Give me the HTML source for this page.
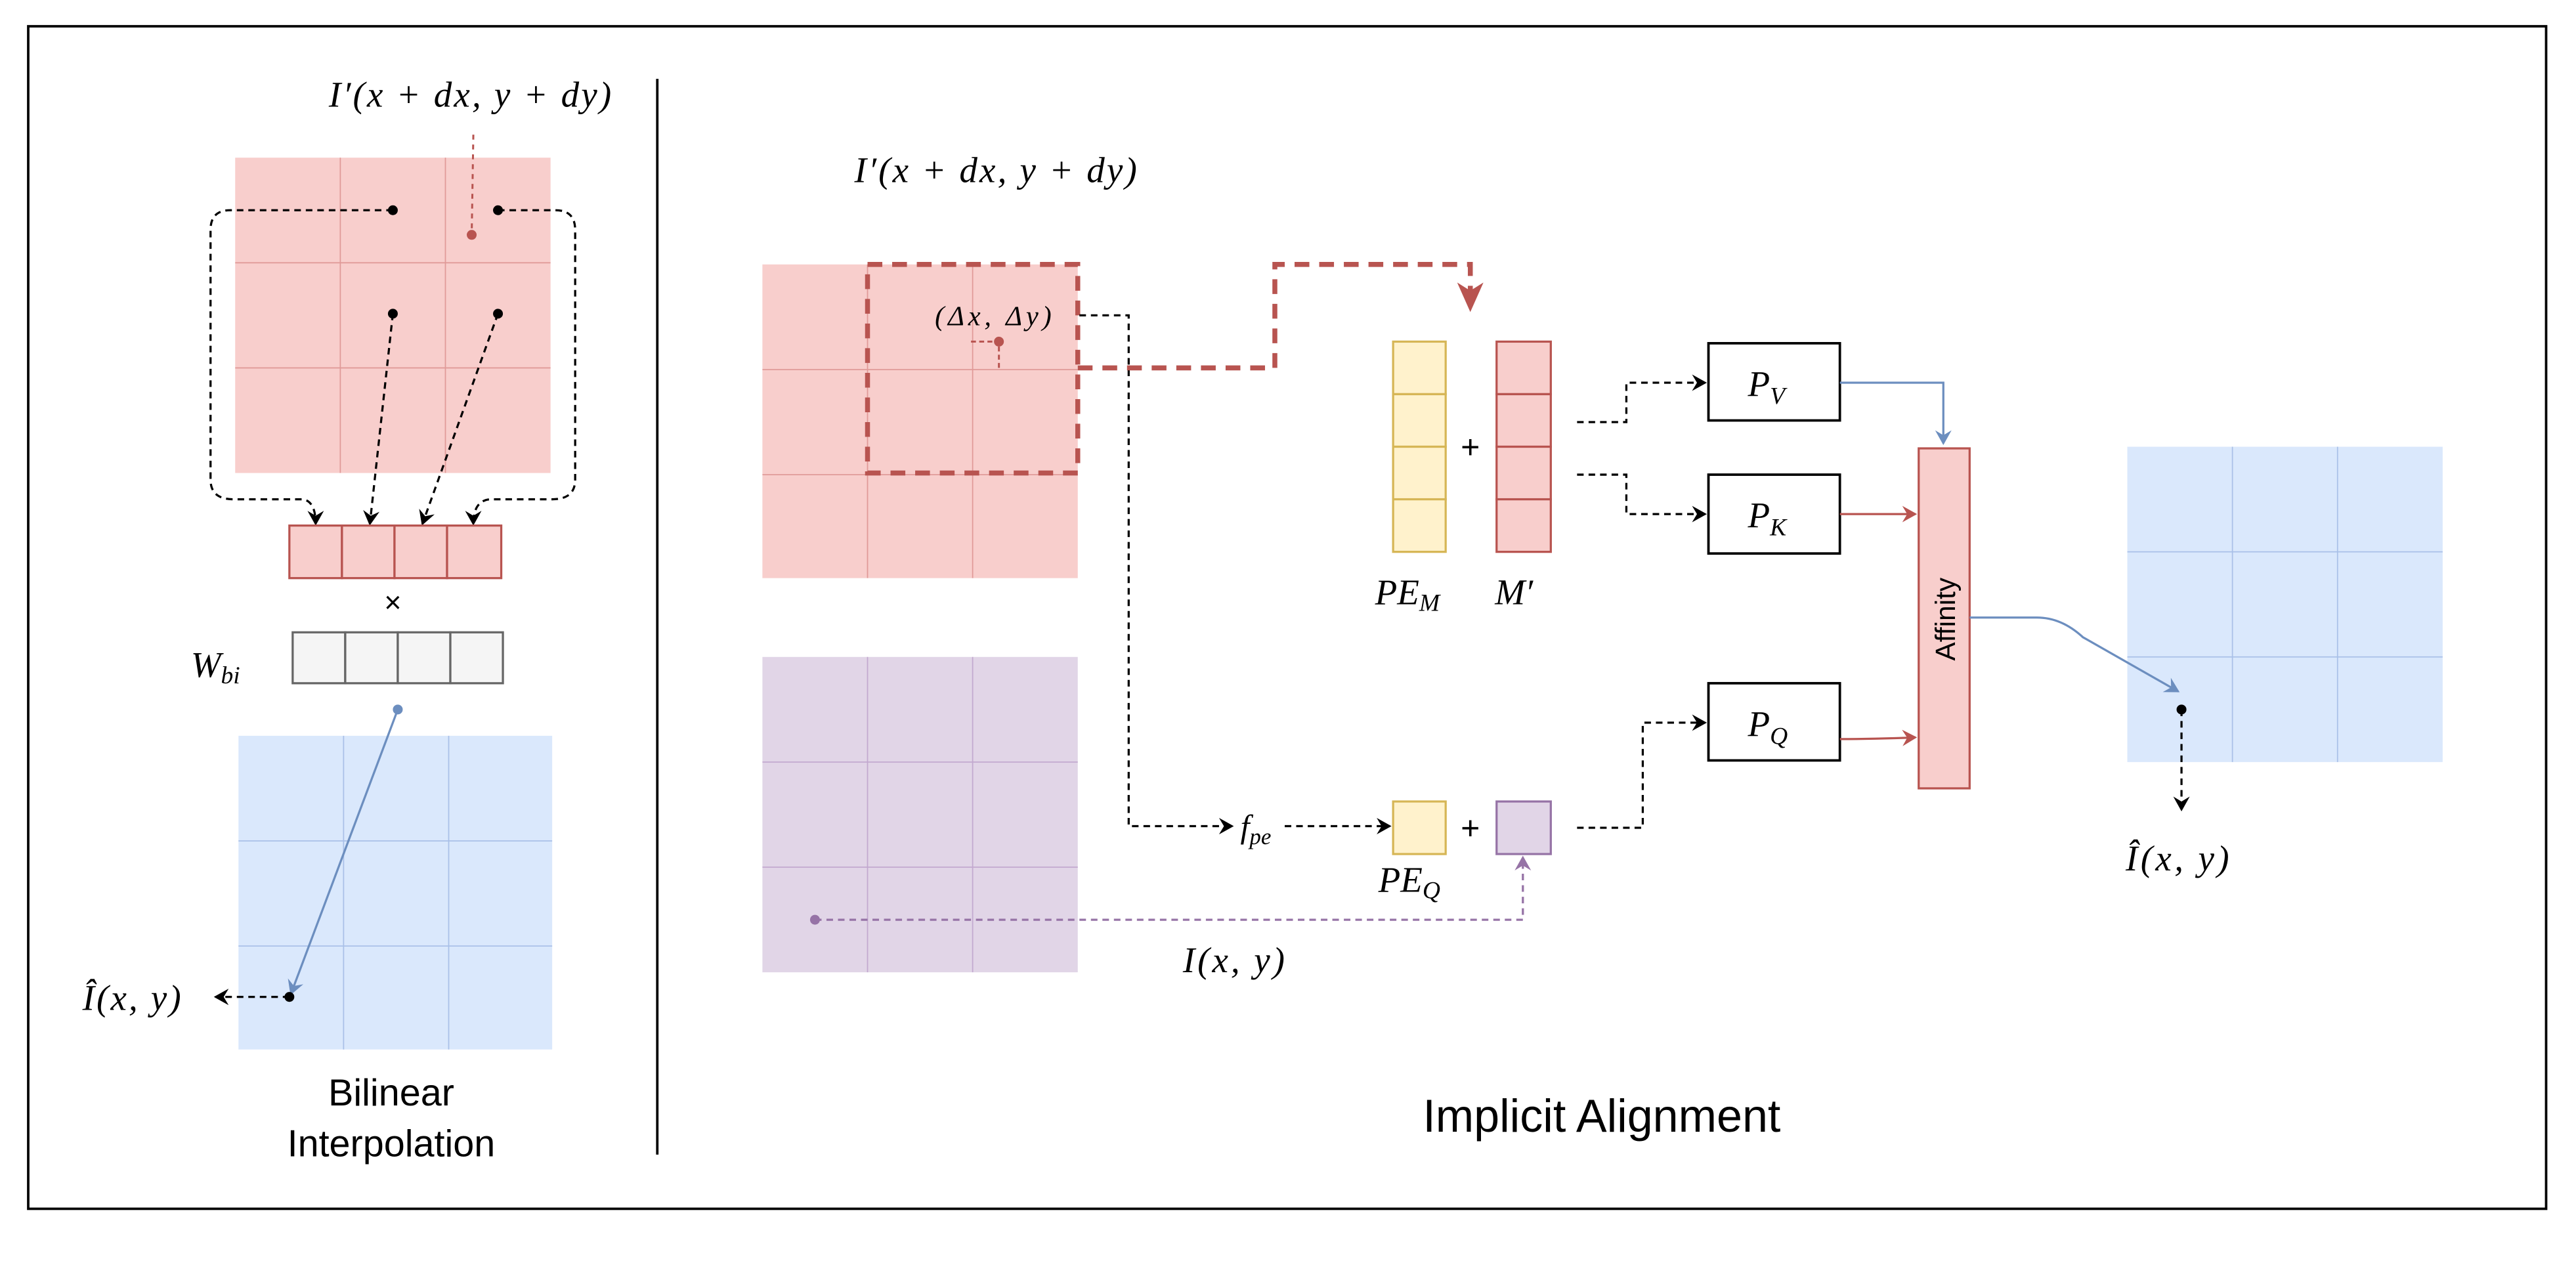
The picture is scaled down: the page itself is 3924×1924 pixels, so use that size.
<!DOCTYPE html>
<html><head><meta charset="utf-8"><style>
html,body{margin:0;padding:0;background:#fff;}
svg{display:block;}
.m{font-family:"Liberation Serif",serif;font-style:italic;fill:#000;}
.s{font-family:"Liberation Sans",sans-serif;fill:#000;}
</style></head><body>
<svg width="3924" height="1924" viewBox="0 0 1568 769" xmlns="http://www.w3.org/2000/svg">
<defs>
<marker id="ab" markerWidth="10" markerHeight="10" refX="8" refY="5" orient="auto" markerUnits="userSpaceOnUse"><path d="M0,0 L9,5 L0,10 L3,5 Z" fill="#000"/></marker>
<marker id="ar" markerWidth="10" markerHeight="10" refX="8" refY="5" orient="auto" markerUnits="userSpaceOnUse"><path d="M0,0 L9,5 L0,10 L3,5 Z" fill="#b85450"/></marker>
<marker id="abl" markerWidth="10" markerHeight="10" refX="8" refY="5" orient="auto" markerUnits="userSpaceOnUse"><path d="M0,0 L9,5 L0,10 L3,5 Z" fill="#6c8ebf"/></marker>
<marker id="ap" markerWidth="10" markerHeight="10" refX="8" refY="5" orient="auto" markerUnits="userSpaceOnUse"><path d="M0,0 L9,5 L0,10 L3,5 Z" fill="#9673a6"/></marker>
<marker id="abig" markerWidth="20" markerHeight="20" refX="16" refY="8" orient="auto" markerUnits="userSpaceOnUse"><path d="M0,0 L18,8 L0,16 L5,8 Z" fill="#b85450"/></marker>
</defs>
<rect x="17" y="16" width="1533" height="720" fill="none" stroke="#000" stroke-width="1.5"/>
<line x1="400" y1="48" x2="400" y2="703" stroke="#000" stroke-width="1.5"/>

<!-- LEFT PANEL -->
<text class="m" x="200" y="65" font-size="22" textLength="172" lengthAdjust="spacing">I′(x + dx, y + dy)</text>
<rect x="143" y="96" width="192" height="192" fill="#f8cecc"/>
<g stroke="#e09a98" stroke-width="0.7"><line x1="207" y1="96" x2="207" y2="288"/><line x1="271" y1="96" x2="271" y2="288"/><line x1="143" y1="160" x2="335" y2="160"/><line x1="143" y1="224" x2="335" y2="224"/></g>
<line x1="288" y1="82" x2="287" y2="143" stroke="#b85450" stroke-width="1.2" stroke-dasharray="3,3"/>
<circle cx="287" cy="143" r="3" fill="#b85450"/>
<g fill="#000"><circle cx="239" cy="128" r="3"/><circle cx="303" cy="128" r="3"/><circle cx="239" cy="191" r="3"/><circle cx="303" cy="191" r="3"/></g>
<g fill="none" stroke="#000" stroke-width="1.3" stroke-dasharray="4,3">
<path d="M239,128 L140,128 Q128,128 128,140 L128,292 Q128,304 142,304 L184,304 Q192,305 192,319" marker-end="url(#ab)"/>
<path d="M303,128 L338,128 Q350,128 350,140 L350,292 Q350,304 336,304 L298,304 Q288,305 288,319" marker-end="url(#ab)"/>
<path d="M239,191 L225,319" marker-end="url(#ab)"/>
<path d="M303,191 L257,319" marker-end="url(#ab)"/>
</g>
<g fill="#f8cecc" stroke="#b85450" stroke-width="1.3"><rect x="176" y="320" width="32" height="32"/><rect x="208" y="320" width="32" height="32"/><rect x="240" y="320" width="32" height="32"/><rect x="272" y="320" width="33" height="32"/></g>
<text class="s" x="239" y="373" font-size="18" text-anchor="middle">×</text>
<text class="m" x="116" y="412" font-size="22">W<tspan font-size="15" dy="4">bi</tspan></text>
<g fill="#f5f5f5" stroke="#666" stroke-width="1.3"><rect x="178" y="385" width="32" height="31"/><rect x="210" y="385" width="32" height="31"/><rect x="242" y="385" width="32" height="31"/><rect x="274" y="385" width="32" height="31"/></g>
<rect x="145" y="448" width="191" height="191" fill="#dae8fc"/>
<g stroke="#a9c0e8" stroke-width="0.7"><line x1="209" y1="448" x2="209" y2="639"/><line x1="273" y1="448" x2="273" y2="639"/><line x1="145" y1="512" x2="336" y2="512"/><line x1="145" y1="576" x2="336" y2="576"/></g>
<circle cx="242" cy="432" r="3" fill="#6c8ebf"/>
<line x1="242" y1="432" x2="177" y2="605" stroke="#6c8ebf" stroke-width="1.3" marker-end="url(#abl)"/>
<circle cx="176" cy="607" r="3" fill="#000"/>
<line x1="176" y1="607" x2="131" y2="607" stroke="#000" stroke-width="1.3" stroke-dasharray="4,3" marker-end="url(#ab)"/>
<text class="m" x="50" y="615" font-size="22" textLength="60" lengthAdjust="spacing">Î(x, y)</text>
<text class="s" x="238" y="673" font-size="23" text-anchor="middle">Bilinear</text>
<text class="s" x="238" y="704" font-size="23" text-anchor="middle">Interpolation</text>

<!-- RIGHT PANEL -->
<text class="m" x="520" y="111" font-size="22" textLength="172" lengthAdjust="spacing">I′(x + dx, y + dy)</text>
<rect x="464" y="161" width="192" height="191" fill="#f8cecc"/>
<g stroke="#e09a98" stroke-width="0.7"><line x1="528" y1="161" x2="528" y2="352"/><line x1="592" y1="161" x2="592" y2="352"/><line x1="464" y1="225" x2="656" y2="225"/><line x1="464" y1="289" x2="656" y2="289"/></g>
<rect x="528" y="161" width="128" height="127" fill="none" stroke="#b85450" stroke-width="3" stroke-dasharray="9,6"/>
<text class="m" x="569" y="198" font-size="17" font-style="normal" textLength="71" lengthAdjust="spacing">(Δ<tspan font-style="italic">x</tspan>, Δ<tspan font-style="italic">y</tspan>)</text>
<path d="M591,208 L608,208 L608,224" fill="none" stroke="#b85450" stroke-width="1.2" stroke-dasharray="3,2"/>
<circle cx="608" cy="208" r="3" fill="#b85450"/>
<path d="M657,192 L687,192 L687,503 L750,503" fill="none" stroke="#000" stroke-width="1.3" stroke-dasharray="4,3" marker-end="url(#ab)"/>
<text class="m" x="755" y="510" font-size="20">f<tspan font-size="14" dy="4">pe</tspan></text>
<line x1="782" y1="503" x2="846" y2="503" stroke="#000" stroke-width="1.3" stroke-dasharray="4,3" marker-end="url(#ab)"/>
<path d="M656,224 L776,224 L776,161 L895,161 L895,188" fill="none" stroke="#b85450" stroke-width="3" stroke-dasharray="9,6" marker-end="url(#abig)"/>
<g fill="#fff2cc" stroke="#d6b656" stroke-width="1.3"><rect x="848" y="208" width="32" height="32"/><rect x="848" y="240" width="32" height="32"/><rect x="848" y="272" width="32" height="32"/><rect x="848" y="304" width="32" height="32"/></g>
<text class="s" x="895" y="279" font-size="20" text-anchor="middle">+</text>
<g fill="#f8cecc" stroke="#b85450" stroke-width="1.3"><rect x="911" y="208" width="33" height="32"/><rect x="911" y="240" width="33" height="32"/><rect x="911" y="272" width="33" height="32"/><rect x="911" y="304" width="33" height="32"/></g>
<text class="m" x="837" y="368" font-size="22">PE<tspan font-size="15" dy="4">M</tspan></text>
<text class="m" x="910" y="368" font-size="22">M′</text>
<g fill="none" stroke="#000" stroke-width="1.3" stroke-dasharray="4,3">
<path d="M960,257 L990,257 L990,233 L1038,233" marker-end="url(#ab)"/>
<path d="M960,289 L990,289 L990,313 L1038,313" marker-end="url(#ab)"/>
<path d="M960,504 L1000,504 L1000,440 L1038,440" marker-end="url(#ab)"/>
</g>
<g fill="#fff" stroke="#000" stroke-width="1.5"><rect x="1040" y="209" width="80" height="47"/><rect x="1040" y="289" width="80" height="48"/><rect x="1040" y="416" width="80" height="47"/></g>
<text class="m" x="1064" y="241" font-size="22">P<tspan font-size="15" dy="5">V</tspan></text>
<text class="m" x="1064" y="321" font-size="22">P<tspan font-size="15" dy="5">K</tspan></text>
<text class="m" x="1064" y="448" font-size="22">P<tspan font-size="15" dy="5">Q</tspan></text>
<rect x="1168" y="273" width="31" height="207" fill="#f8cecc" stroke="#b85450" stroke-width="1.3"/>
<text class="s" x="0" y="0" font-size="17" text-anchor="middle" transform="translate(1190,377) rotate(-90)">Affinity</text>
<path d="M1120,233 L1183,233 L1183,270" fill="none" stroke="#6c8ebf" stroke-width="1.3" marker-end="url(#abl)"/>
<line x1="1120" y1="313" x2="1166" y2="313" stroke="#b85450" stroke-width="1.3" marker-end="url(#ar)"/>
<path d="M1120,450 Q1140,450 1166,449" fill="none" stroke="#b85450" stroke-width="1.3" marker-end="url(#ar)"/>
<rect x="1295" y="272" width="192" height="192" fill="#dae8fc"/>
<g stroke="#a9c0e8" stroke-width="0.7"><line x1="1359" y1="272" x2="1359" y2="464"/><line x1="1423" y1="272" x2="1423" y2="464"/><line x1="1295" y1="336" x2="1487" y2="336"/><line x1="1295" y1="400" x2="1487" y2="400"/></g>
<path d="M1199,376 L1240,376 Q1255,376 1268,388 L1326,421" fill="none" stroke="#6c8ebf" stroke-width="1.3" marker-end="url(#abl)"/>
<circle cx="1328" cy="432" r="3" fill="#000"/>
<line x1="1328" y1="432" x2="1328" y2="493" stroke="#000" stroke-width="1.3" stroke-dasharray="4,3" marker-end="url(#ab)"/>
<text class="m" x="1294" y="530" font-size="22" textLength="63" lengthAdjust="spacing">Î(x, y)</text>
<rect x="464" y="400" width="192" height="192" fill="#e1d5e7"/>
<g stroke="#c2a9cf" stroke-width="0.7"><line x1="528" y1="400" x2="528" y2="592"/><line x1="592" y1="400" x2="592" y2="592"/><line x1="464" y1="464" x2="656" y2="464"/><line x1="464" y1="528" x2="656" y2="528"/></g>
<circle cx="496" cy="560" r="3" fill="#9673a6"/>
<path d="M496,560 L927,560 L927,522" fill="none" stroke="#9673a6" stroke-width="1.3" stroke-dasharray="4,3" marker-end="url(#ap)"/>
<rect x="848" y="488" width="32" height="32" fill="#fff2cc" stroke="#d6b656" stroke-width="1.3"/>
<text class="s" x="895" y="511" font-size="20" text-anchor="middle">+</text>
<rect x="911" y="488" width="33" height="32" fill="#e1d5e7" stroke="#9673a6" stroke-width="1.3"/>
<text class="m" x="839" y="543" font-size="22">PE<tspan font-size="15" dy="4">Q</tspan></text>
<text class="m" x="720" y="592" font-size="22" textLength="62" lengthAdjust="spacing">I(x, y)</text>
<text class="s" x="975" y="689" font-size="28" text-anchor="middle">Implicit Alignment</text>
</svg>
</body></html>
